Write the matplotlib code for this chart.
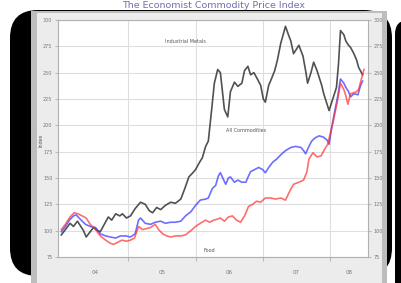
import matplotlib.pyplot as plt
from matplotlib.patches import FancyBboxPatch, Rectangle

# decimal years / index values
metals_t = [2004.00, 2004.06, 2004.13, 2004.18, 2004.24, 2004.28, 2004.33, 2004.37, 2004.43, 2004.48,
            2004.54, 2004.58, 2004.64, 2004.70, 2004.75, 2004.81, 2004.87, 2004.91, 2004.97, 2005.03,
            2005.10, 2005.18, 2005.25, 2005.31, 2005.36, 2005.42, 2005.48, 2005.55, 2005.63, 2005.70,
            2005.78, 2005.84, 2005.90, 2005.96, 2006.00, 2006.06, 2006.10, 2006.15, 2006.19, 2006.24,
            2006.28, 2006.33, 2006.37, 2006.43, 2006.48, 2006.52, 2006.58, 2006.63, 2006.69, 2006.73,
            2006.78, 2006.82, 2006.87, 2006.93, 2006.97, 2007.01, 2007.04, 2007.09, 2007.13, 2007.18,
            2007.22, 2007.27, 2007.31, 2007.34, 2007.39, 2007.42, 2007.46, 2007.51, 2007.54, 2007.60,
            2007.64, 2007.67, 2007.72, 2007.76, 2007.81, 2007.84, 2007.88, 2007.91, 2007.96, 2007.99,
            2008.03, 2008.06, 2008.10, 2008.13, 2008.16, 2008.21, 2008.24, 2008.28, 2008.31, 2008.36,
            2008.40, 2008.43, 2008.49]
metals_v = [96, 101, 107, 104, 109, 105, 100, 94, 99, 103,
            100, 99, 106, 113, 110, 116, 114, 116, 112, 114,
            121, 127, 125, 119, 117, 122, 120, 124, 127, 126,
            130, 140, 151, 155, 158, 165, 169, 180, 185, 215,
            240, 253, 250, 215, 208, 232, 241, 237, 240, 252,
            256, 248, 250, 243, 238, 225, 222, 238, 244, 252,
            262, 278, 287, 294, 285, 280, 268, 273, 276, 266,
            252, 240, 250, 260, 252, 246, 238, 230, 220, 214,
            222, 228, 236, 258, 290, 286, 280, 276, 274, 268,
            262, 255, 248]

allc_t = [2004.00, 2004.06, 2004.12, 2004.18, 2004.22, 2004.28, 2004.36, 2004.43, 2004.51, 2004.58,
          2004.66, 2004.73, 2004.81, 2004.88, 2004.96, 2005.03, 2005.10, 2005.15, 2005.18, 2005.25,
          2005.33, 2005.40, 2005.48, 2005.55, 2005.63, 2005.70, 2005.78, 2005.85, 2005.93, 2006.00,
          2006.07, 2006.15, 2006.19, 2006.25, 2006.30, 2006.34, 2006.37, 2006.42, 2006.45, 2006.49,
          2006.52, 2006.58, 2006.63, 2006.69, 2006.75, 2006.79, 2006.82, 2006.88, 2006.94, 2007.00,
          2007.04, 2007.09, 2007.15, 2007.21, 2007.27, 2007.34, 2007.42, 2007.49, 2007.57, 2007.61,
          2007.64, 2007.69, 2007.73, 2007.78, 2007.84, 2007.90, 2007.96, 2007.99, 2008.03, 2008.07,
          2008.12, 2008.16, 2008.21, 2008.24, 2008.28, 2008.31, 2008.36, 2008.42, 2008.46, 2008.49]
allc_v = [99, 104, 110, 114, 115, 111, 106, 104, 103, 97,
          95, 94, 93, 95, 95, 94, 97, 110, 112, 107,
          106, 108, 109, 107, 108, 108, 109, 114, 118, 124,
          129, 130, 131, 140, 143, 152, 155, 148, 144, 150,
          151, 146, 148, 146, 146, 152, 156, 158, 160, 158,
          155, 160, 165, 168, 172, 176, 179, 180, 179, 176,
          173, 180, 185, 188, 190, 189, 186, 182, 198, 212,
          228, 244, 240, 236, 232, 227, 230, 229, 238, 242]

food_t = [2004.00, 2004.06, 2004.13, 2004.19, 2004.25, 2004.31, 2004.37, 2004.43, 2004.51, 2004.58,
          2004.66, 2004.73, 2004.78, 2004.84, 2004.90, 2004.97, 2005.03, 2005.09, 2005.15, 2005.21,
          2005.27, 2005.33, 2005.40, 2005.45, 2005.51, 2005.57, 2005.63, 2005.70, 2005.78, 2005.85,
          2005.93, 2006.00, 2006.07, 2006.15, 2006.21, 2006.27, 2006.33, 2006.37, 2006.43, 2006.49,
          2006.55, 2006.61, 2006.67, 2006.73, 2006.79, 2006.85, 2006.91, 2006.97, 2007.04, 2007.12,
          2007.19, 2007.27, 2007.34, 2007.40, 2007.46, 2007.54, 2007.61, 2007.66, 2007.69, 2007.75,
          2007.81, 2007.87, 2007.93, 2007.97, 2008.01, 2008.06, 2008.12, 2008.16, 2008.21, 2008.24,
          2008.27, 2008.31, 2008.36, 2008.40, 2008.43, 2008.48, 2008.51]
food_v = [101, 106, 113, 117, 116, 114, 112, 106, 101, 95,
          91, 88, 87, 89, 91, 90, 91, 93, 104, 101,
          102, 103, 106, 101, 97, 95, 94, 95, 95, 96,
          100, 104, 107, 110, 108, 110, 111, 112, 109, 113,
          114, 110, 108, 114, 123, 125, 128, 127, 131, 131,
          130, 131, 129, 137, 144, 146, 148, 156, 168, 174,
          170, 171, 178, 182, 193, 206, 225, 240, 234, 228,
          220, 230, 231, 232, 234, 246, 253]

year_grid = [2005, 2006, 2007, 2008]
year_label_pos = [2004.5, 2005.5, 2006.5, 2007.5, 2008.29]
year_labels = ['04', '05', '06', '07', '08']
y_ticks = [75, 100, 125, 150, 175, 200, 225, 250, 275, 300]

fig = plt.figure(figsize=(4.02, 2.83), dpi=100)
fig.patch.set_facecolor('white')

# background frame, drawn in pixel coordinates
bg = fig.add_axes([0, 0, 1, 1], zorder=0)
bg.set_xlim(0, 402)
bg.set_ylim(283, 0)
bg.axis('off')
bg.add_patch(FancyBboxPatch((10, 10), 382, 266, boxstyle='round,pad=0,rounding_size=28', fc='black', ec='none'))
bg.add_patch(FancyBboxPatch((395, 20), 30, 290, boxstyle='round,pad=0,rounding_size=14', fc='black', ec='none'))
bg.add_patch(Rectangle((31, 11), 356, 280, fc='#bdbdbd', ec='none'))
bg.add_patch(Rectangle((37, 13), 345, 280, fc='#ececec', ec='none'))
bg.text(214, 6, 'The Economist Commodity Price Index', ha='center', va='center',
        fontsize=6.8, color='#7070b0')
bg.text(41, 140, 'Index', ha='center', va='center', rotation=90, fontsize=3.5, color='#555555')

ax = fig.add_axes([58 / 402, 1 - 257 / 283, 310 / 402, 237 / 283], zorder=1)
ax.set_facecolor('white')
ax.plot(metals_t, metals_v, color='#333333', lw=1.2, alpha=0.85)
ax.plot(allc_t, allc_v, color='#3030ff', lw=1.2, alpha=0.7)
ax.plot(food_t, food_v, color='#ff3030', lw=1.2, alpha=0.7)

ax.text(2005.85, 280, 'Industrial Metals', fontsize=3.5, color='#555555', ha='center', va='center')
ax.text(2006.75, 195, 'All Commodities', fontsize=3.5, color='#555555', ha='center', va='center')
ax.text(2006.2, 81, 'Food', fontsize=3.5, color='#555555', ha='center', va='center')

ax.set_xlim(2003.95, 2008.57)
ax.set_ylim(75, 300)
ax.set_xticks(year_grid)
ax.set_xticklabels([])
ax.set_xticks(year_label_pos, minor=True)
ax.set_xticklabels(year_labels, minor=True)
ax.tick_params(axis='x', which='major', length=3, color='#bbbbbb')
ax.tick_params(axis='x', which='minor', length=0, labelsize=4, labelcolor='#777777', pad=9)
ax.set_yticks(y_ticks)
ax.tick_params(axis='y', which='both', length=2, color='#bbbbbb', labelsize=3.5, labelcolor='#777777',
               right=True, labelright=True, pad=2)
ax.grid(True, which='major', color='#dedede', lw=0.8)
for s in ax.spines.values():
    s.set_color('#b0b0b0')
    s.set_linewidth(0.8)

fig.savefig('out.png', dpi=100)
